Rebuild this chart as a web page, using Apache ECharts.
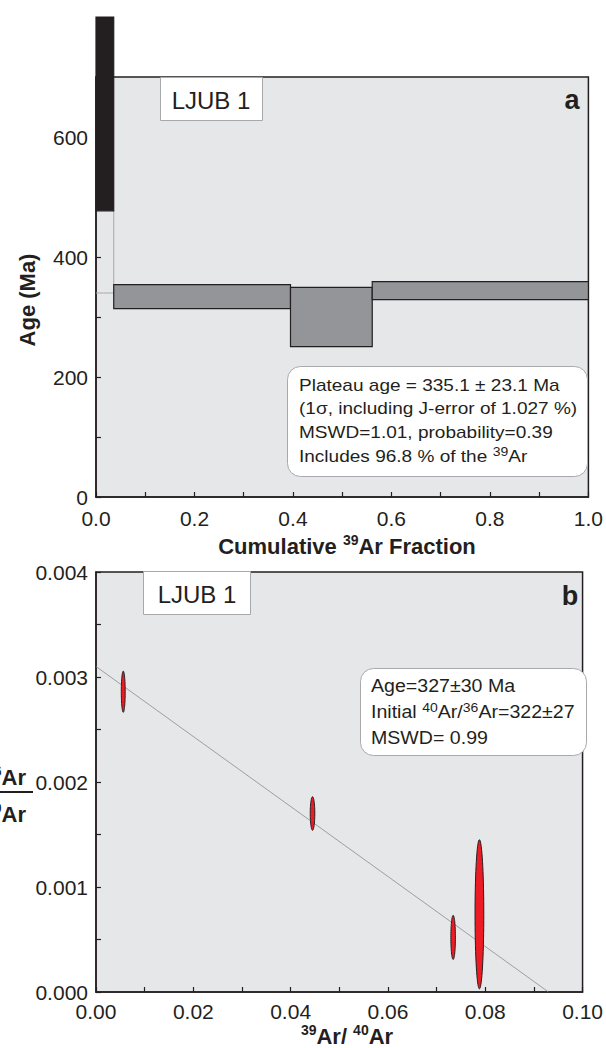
<!DOCTYPE html>
<html><head><meta charset="utf-8">
<script src="https://cdn.jsdelivr.net/npm/echarts@6/dist/echarts.min.js"></script>
<style>html,body{margin:0;padding:0;background:#fff}#c{width:606px;height:1048px}</style>
</head><body><div id="c"></div>
<script>
// ---- Panel a: age spectrum ----
const stepX0 = [0, 0.036, 0.395, 0.561];
const stepX1 = [0.036, 0.395, 0.561, 1.0];
const stepLow = [477, 314, 250.5, 329];
const stepHigh = [800, 354, 349.5, 359];
const stepIncluded = [false, true, true, true];
const plateauRefAge = 340;
const ageTickLabels = ['0', '', '200', '', '400', '', '600', ''];
const fracTickLabels = ['0.0', '', '0.2', '', '0.4', '', '0.6', '', '0.8', '', '1.0'];

// ---- Panel b: inverse isochron ----
const isoX = [0.0056, 0.0445, 0.0734, 0.0788];
const isoY = [0.00286, 0.00170, 0.00052, 0.00074];
const isoXErr = [0.0004, 0.00047, 0.00047, 0.0009];
const isoYErr = [0.000196, 0.00016, 0.00021, 0.00071];
const isoYIntercept = 0.0031;
const isoXIntercept = 0.093;
const isoXTickLabels = ['0.00', '', '0.02', '', '0.04', '', '0.06', '', '0.08', '', '0.10'];
const isoYTickLabels = ['0.000', '', '0.001', '', '0.002', '', '0.003', '', '0.004'];

const FONT = '"Liberation Sans", Arial, Helvetica, sans-serif';
const INK = '#231f20';
const BG = '#e6e7e8';

function axis(gridIndex, min, max, step, labels, margin) {
  return {
    type: 'value', gridIndex, min, max, interval: step,
    axisLine: { show: true, onZero: false, lineStyle: { color: INK, width: 1.5 } },
    axisTick: { show: true, inside: true, length: 5, lineStyle: { color: INK, width: 1.2 } },
    splitLine: { show: false },
    axisLabel: {
      color: INK, fontSize: 21, fontFamily: FONT, margin: margin,
      formatter: v => { const i = Math.round((v - min) / step); return labels[i] !== undefined ? labels[i] : ''; }
    }
  };
}

const chart = echarts.init(document.getElementById('c'), null, { renderer: 'svg', width: 606, height: 1048 });

const sup = { fontSize: 12.5, fontFamily: FONT, color: INK, verticalAlign: 'top', lineHeight: 12 };
const supB = { fontSize: 14, fontWeight: 'bold', fontFamily: FONT, color: INK, verticalAlign: 'top', lineHeight: 12 };

function textLine(x, y, rich, size, sx) {
  return {
    type: 'text', x, y, z: 100, scaleX: sx,
    style: { text: rich, fontSize: size, fontFamily: FONT, fill: INK, textVerticalAlign: 'middle',
      rich: { s: sup, n: { fontSize: size, fontFamily: FONT, color: INK, lineHeight: 22 } } }
  };
}

const boldRich = { b: { fontSize: 22, fontWeight: 'bold', fontFamily: FONT, color: INK, lineHeight: 26 }, s: supB };

const option = {
  animation: false,
  backgroundColor: '#fff',
  grid: [
    { left: 96, top: 77, width: 502, height: 420, show: true, backgroundColor: BG, borderColor: INK, borderWidth: 1.5 },
    { left: 96, top: 572, width: 502, height: 420, show: true, backgroundColor: BG, borderColor: INK, borderWidth: 1.5 }
  ],
  xAxis: [
    axis(0, 0, 1, 0.1, fracTickLabels, 11),
    axis(1, 0, 0.1, 0.01, isoXTickLabels, 9)
  ],
  yAxis: [
    axis(0, 0, 700, 100, ageTickLabels, 8),
    axis(1, 0, 0.004, 0.0005, isoYTickLabels, 8)
  ],
  series: [
    {
      type: 'line', xAxisIndex: 0, yAxisIndex: 0, symbol: 'none', z: 1,
      lineStyle: { color: '#a7a9ac', width: 1 },
      data: [[stepX1[0], stepLow[0]], [stepX1[0], stepHigh[1]]]
    },
    {
      type: 'line', xAxisIndex: 0, yAxisIndex: 0, symbol: 'none', z: 1,
      lineStyle: { color: '#a7a9ac', width: 1 },
      data: [[stepX0[0], plateauRefAge], [stepX1[0], plateauRefAge]]
    },
    {
      type: 'custom', xAxisIndex: 0, yAxisIndex: 0, clip: false, z: 3,
      encode: { x: [0, 1], y: [2, 3] },
      data: stepX0.map((x, i) => [x, stepX1[i], stepLow[i], stepHigh[i], stepIncluded[i] ? 1 : 0]),
      renderItem: (params, api) => {
        const p0 = api.coord([api.value(0), api.value(3)]);
        const p1 = api.coord([api.value(1), api.value(2)]);
        const inc = api.value(4) === 1;
        return {
          type: 'rect',
          shape: { x: p0[0], y: p0[1], width: p1[0] - p0[0], height: p1[1] - p0[1] },
          style: { fill: inc ? '#939598' : INK, stroke: INK, lineWidth: 1.2 }
        };
      }
    },
    {
      type: 'line', xAxisIndex: 1, yAxisIndex: 1, symbol: 'none', z: 2,
      lineStyle: { color: '#8a8c8e', width: 0.8 },
      data: [[0, isoYIntercept], [isoXIntercept, 0]]
    },
    {
      type: 'custom', xAxisIndex: 1, yAxisIndex: 1, z: 4,
      data: isoX.map((x, i) => [x, isoY[i], isoXErr[i], isoYErr[i]]),
      encode: { x: 0, y: 1 },
      renderItem: (params, api) => {
        const c = api.coord([api.value(0), api.value(1)]);
        const s = api.size([api.value(2), api.value(3)]);
        const pts = [];
        for (let k = 0; k < 72; k++) {
          const t = k / 72 * 2 * Math.PI;
          pts.push([c[0] + s[0] * Math.cos(t), c[1] + s[1] * Math.sin(t)]);
        }
        return { type: 'polygon', shape: { points: pts }, style: { fill: '#ed1c24', stroke: INK, lineWidth: 1 } };
      }
    }
  ],
  graphic: [
    // panel a label box
    { type: 'rect', z: 50, shape: { x: 160.5, y: 77.5, width: 102, height: 43 }, style: { fill: '#fff', stroke: '#a7a9ac', lineWidth: 1 } },
    { type: 'text', z: 51, x: 211, y: 100, style: { text: 'LJUB 1', fontSize: 24, fontFamily: FONT, fill: INK, textAlign: 'center', textVerticalAlign: 'middle' } },
    { type: 'text', z: 51, x: 572, y: 100, style: { text: 'a', fontSize: 27, fontWeight: 'bold', fontFamily: FONT, fill: INK, textAlign: 'center', textVerticalAlign: 'middle' } },
    // panel a plateau box
    { type: 'rect', z: 50, shape: { x: 287.5, y: 366.5, width: 300, height: 110, r: 13 }, style: { fill: '#fff', stroke: '#a7a9ac', lineWidth: 1 } },
    textLine(299, 385, 'Plateau age = 335.1 ± 23.1 Ma', 17, 1.12),
    textLine(299, 408, '(1σ, including J-error of 1.027 %)', 17, 1.12),
    textLine(299, 432, 'MSWD=1.01, probability=0.39', 17, 1.12),
    textLine(299, 456, '{n|Includes 96.8 % of the }{s|39}{n|Ar}', 17, 1.12),
    // panel a axis titles
    { type: 'text', z: 51, x: 27, y: 300, rotation: Math.PI / 2,
      style: { text: 'Age (Ma)', fontSize: 22, fontWeight: 'bold', fontFamily: FONT, fill: INK, textAlign: 'center', textVerticalAlign: 'middle' } },
    { type: 'text', z: 51, x: 347, y: 546,
      style: { text: '{b|Cumulative }{s|39}{b|Ar Fraction}', fontSize: 22, fontWeight: 'bold', fontFamily: FONT, fill: INK, textAlign: 'center', textVerticalAlign: 'middle', rich: boldRich } },
    // panel b label box
    { type: 'rect', z: 50, shape: { x: 143.5, y: 571.5, width: 107, height: 43 }, style: { fill: '#fff', stroke: '#a7a9ac', lineWidth: 1 } },
    { type: 'text', z: 51, x: 197, y: 594, style: { text: 'LJUB 1', fontSize: 24, fontFamily: FONT, fill: INK, textAlign: 'center', textVerticalAlign: 'middle' } },
    { type: 'text', z: 51, x: 570, y: 596, style: { text: 'b', fontSize: 27, fontWeight: 'bold', fontFamily: FONT, fill: INK, textAlign: 'center', textVerticalAlign: 'middle' } },
    // panel b isochron box
    { type: 'rect', z: 50, shape: { x: 360.5, y: 668.5, width: 226, height: 87, r: 13 }, style: { fill: '#fff', stroke: '#a7a9ac', lineWidth: 1 } },
    textLine(371, 686, 'Age=327±30 Ma', 17.5, 1.12),
    textLine(371, 712, '{n|Initial }{s|40}{n|Ar/}{s|36}{n|Ar=322±27}', 17.5, 1.12),
    textLine(371, 738, 'MSWD= 0.99', 17.5, 1.12),
    // panel b axis titles
    { type: 'text', z: 51, x: 347, y: 1036,
      style: { text: '{s|39}{b|Ar/ }{s|40}{b|Ar}', fontSize: 22, fontWeight: 'bold', fontFamily: FONT, fill: INK, textAlign: 'center', textVerticalAlign: 'middle', rich: boldRich } },
    { type: 'text', z: 51, x: 26, y: 777,
      style: { text: '{s|36}{b|Ar}', fontSize: 22, fontWeight: 'bold', fontFamily: FONT, fill: INK, textAlign: 'right', textVerticalAlign: 'middle', rich: boldRich } },
    { type: 'line', z: 51, shape: { x1: -10, y1: 792, x2: 33, y2: 792 }, style: { stroke: INK, lineWidth: 2 } },
    { type: 'text', z: 51, x: 26, y: 814,
      style: { text: '{s|40}{b|Ar}', fontSize: 22, fontWeight: 'bold', fontFamily: FONT, fill: INK, textAlign: 'right', textVerticalAlign: 'middle', rich: boldRich } }
  ]
};
chart.setOption(option);
</script>
</body></html>
